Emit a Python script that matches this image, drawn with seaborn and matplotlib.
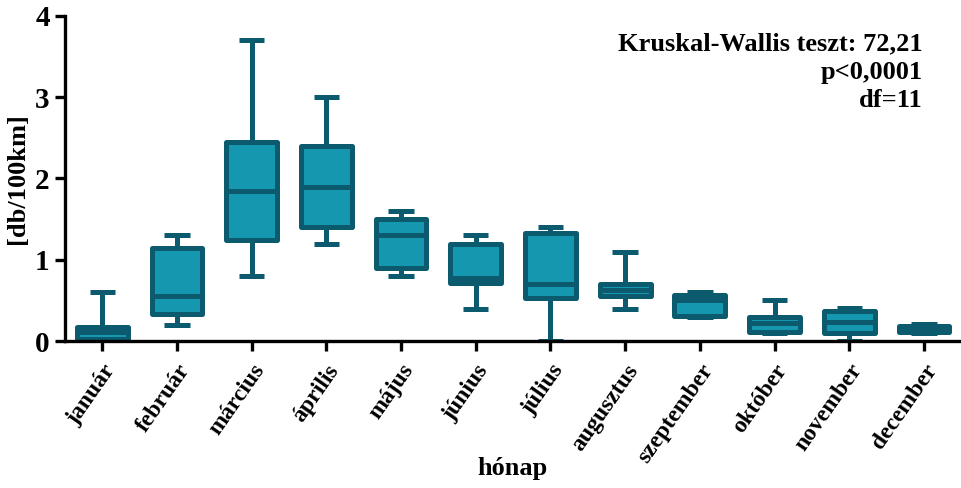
import numpy as np
import pandas as pd
import matplotlib
matplotlib.use("Agg")
import matplotlib.pyplot as plt
import seaborn as sns

months = ["január", "február", "március", "április", "május", "június",
          "július", "augusztus", "szeptember", "október", "november", "december"]
mins    = [0.00, 0.20, 0.80, 1.20, 0.80, 0.40, 0.00, 0.40, 0.30, 0.10, 0.00, 0.10]
q1s     = [0.03, 0.33, 1.24, 1.40, 0.90, 0.72, 0.53, 0.55, 0.31, 0.11, 0.10, 0.11]
medians = [0.11, 0.55, 1.85, 1.90, 1.30, 0.78, 0.70, 0.63, 0.50, 0.22, 0.23, 0.14]
q3s     = [0.17, 1.15, 2.45, 2.40, 1.50, 1.20, 1.33, 0.70, 0.57, 0.30, 0.37, 0.18]
maxs    = [0.60, 1.30, 3.70, 3.00, 1.60, 1.30, 1.40, 1.10, 0.60, 0.50, 0.41, 0.21]
yticks = [0, 1, 2, 3, 4]

rows = []
for m, a, b, c, d, e in zip(months, mins, q1s, medians, q3s, maxs):
    for v in (a, b, c, d, e):
        rows.append({"hónap": m, "val": v})
df = pd.DataFrame(rows)

sns.set_style("ticks")
plt.rcParams["font.family"] = ["Liberation Serif", "DejaVu Serif"]
plt.rcParams["font.weight"] = "bold"
for k in ["text.color", "axes.labelcolor", "xtick.color", "ytick.color"]:
    plt.rcParams[k] = "black"

fill = "#1597AF"
edge = "#0B5A6E"

fig = plt.figure(figsize=(9.61, 4.88), dpi=100)
ax = fig.add_axes([65/961, 1-341/488, (959-65)/961, (341-16)/488])

sns.boxplot(data=df, x="hónap", y="val", order=months, ax=ax,
            whis=(0, 100), width=0.68, color=fill, saturation=1,
            linewidth=3.6, linecolor=edge, showfliers=False,
            boxprops=dict(joinstyle="round"),
            capprops=dict(solid_capstyle="butt"))

ax.set_xlim(-0.5, 11.47)
ax.set_ylim(0, 4)
ax.set_yticks(yticks)
ax.set_yticklabels([str(t) for t in yticks], fontsize=21, fontweight="bold")
ax.set_xticks(range(len(months)))
ax.set_xticklabels(months, rotation=55, ha="right", rotation_mode="anchor",
                   fontsize=17, fontweight="bold")
ax.tick_params(axis="x", pad=7)
ax.set_xlabel("hónap", fontsize=19, fontweight="bold", va="center")
ax.xaxis.set_label_coords(0.5, (341-468)/325)
ax.set_ylabel("[db/100km]", fontsize=19, fontweight="bold", va="center")
ax.yaxis.set_label_coords(-(65-18)/894, 0.5)

for s in ["top", "right"]:
    ax.spines[s].set_visible(False)
for s in ["left", "bottom"]:
    ax.spines[s].set_linewidth(2.4)
    ax.spines[s].set_color("black")
    ax.spines[s].set_zorder(5)
ax.tick_params(axis="both", length=7, width=2.4, color="black", labelcolor="black")
ax.tick_params(axis="y", pad=4)

ax.text(0.959, 0.95, "Kruskal-Wallis teszt: 72,21\np<0,0001\ndf=11",
        transform=ax.transAxes, ha="right", va="top", fontsize=19,
        fontweight="bold", linespacing=1.3, color="black")

fig.savefig("out.png", dpi=100)
